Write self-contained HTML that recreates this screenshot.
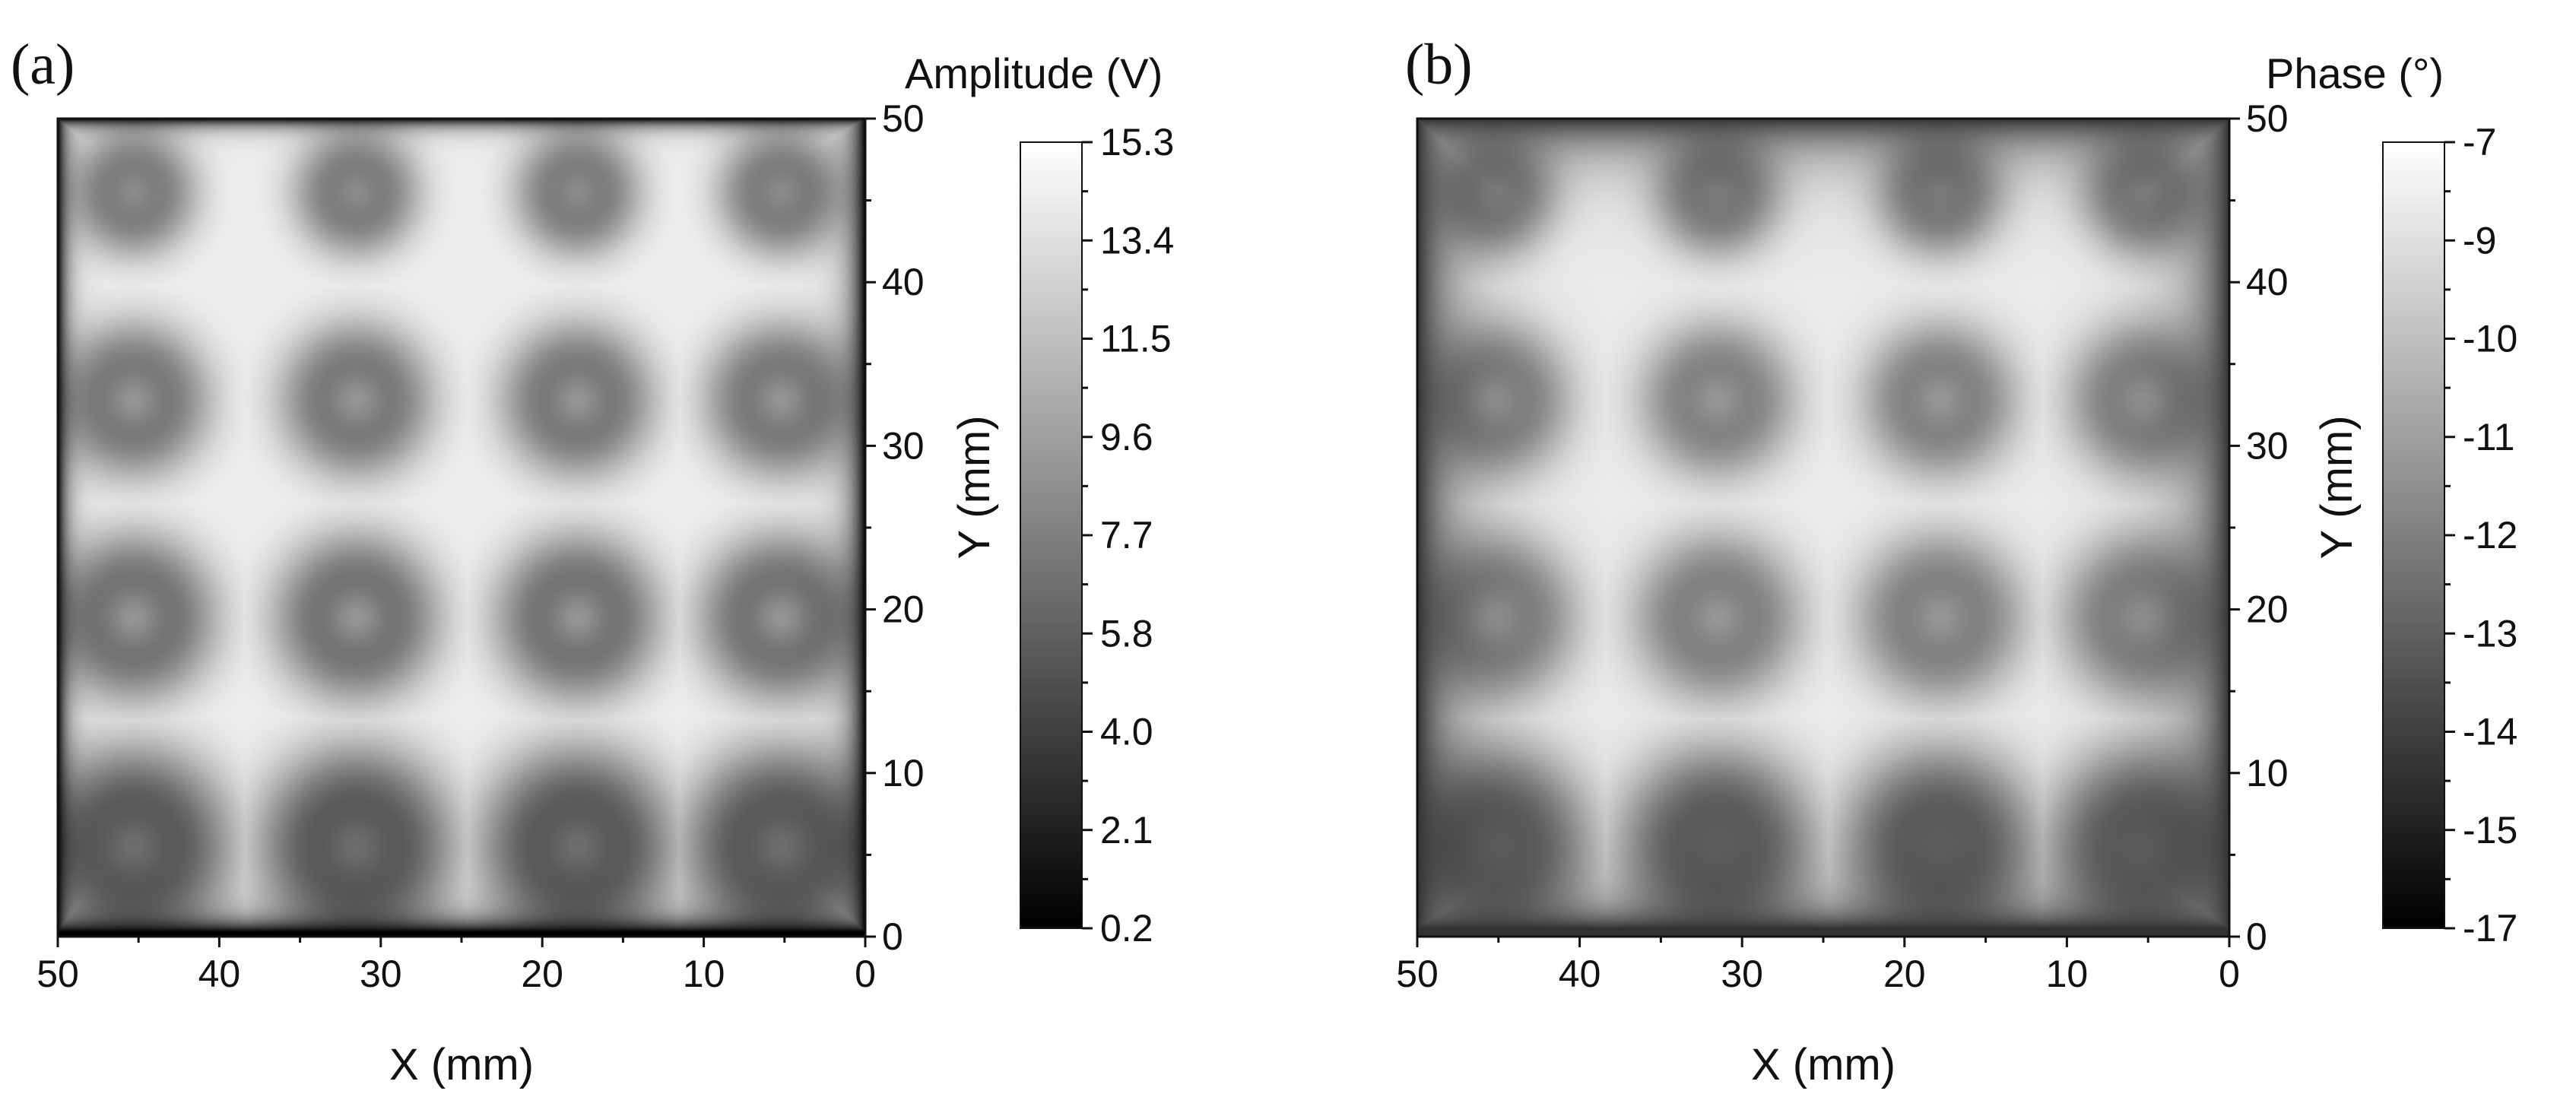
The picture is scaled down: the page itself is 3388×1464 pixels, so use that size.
<!DOCTYPE html>
<html><head><meta charset="utf-8"><style>
body{margin:0;background:#fff;}
#root{position:relative;width:3388px;height:1464px;overflow:hidden;background:#fff;font-family:"Liberation Sans",sans-serif;}
canvas{position:absolute;}
svg{position:absolute;left:0;top:0;}
</style></head><body>
<div id="root">
<canvas id="ca"></canvas>
<canvas id="cb"></canvas>
<svg id="ov" width="3388" height="1464"></svg>
</div>
<script>
// ---- data ----
const spotX = [45.3, 31.5, 17.8, 5.2];          // mm
const spotY = [45.5, 32.8, 19.5, 5.5];          // mm
const spotR = [3.9, 4.7, 5.1, 6.1];             // mm, per row
const ampBg = 14.6, ampRing = [6.6, 6.0, 5.4, 4.0], ampCenter = [8.6, 9.2, 9.2, 6.8];
const phBg = -7.6, phRing = [-12.6, -12.6, -12.7, -14.0], phCenter = [-11.8, -11.0, -11.0, -13.2];
const axisTicks = [0, 10, 20, 30, 40, 50];
const ampCbLabels = ["15.3","13.4","11.5","9.6","7.7","5.8","4.0","2.1","0.2"];
const phCbLabels = ["-7","-9","-10","-11","-12","-13","-14","-15","-17"];

const panels = [
 {id:'ca', L:76, T:156, W:1062, H:1076, cb:[1342,187,81,1034], title:"Amplitude (V)", tx:1190, label:"(a)", lx:14, ytx:1281,
  bg:ampBg, ring:ampRing, cen:ampCenter, vmin:0.2, vmax:15.3, cbl:ampCbLabels, edge:'amp', name:'amplitude'},
 {id:'cb', L:1864, T:156, W:1068, H:1076, cb:[3134,187,81,1034], title:"Phase (°)", tx:2980, label:"(b)", lx:1848, ytx:3073,
  bg:phBg, ring:phRing, cen:phCenter, vmin:-17, vmax:-7, cbl:phCbLabels, edge:'ph', name:'phase'}
];

function value(p, x, y){
  let v = p.bg;
  for(let r=0;r<spotY.length;r++){
    const R = spotR[r];
    for(let c=0;c<spotX.length;c++){
      const d = Math.hypot(x-spotX[c], y-spotY[r]) / R;
      const disk = Math.exp(-Math.pow(d,3)*1.0);
      const core = Math.exp(-d*d/0.15);
      const dv = (p.ring[r]-p.bg)*disk + (p.cen[r]-p.ring[r])*core;
      v = Math.min(v, p.bg+dv);
    }
  }
  const dl=(50-x), dr=x, dt=50-y, db=y;
  let e;
  if(p.edge==='amp'){
    e = Math.min(1-Math.exp(-dl/0.6), 1-Math.exp(-dr/0.9), 1-Math.exp(-dt/0.5), 1-Math.exp(-(db-0.3)/0.8));
    e = Math.max(0,e);
    return p.vmin + (v-p.vmin)*e;
  } else {
    e = Math.min(1-Math.exp(-dl/2.2), 1-Math.exp(-dr/2.2), 1-Math.exp(-dt/2.0), 1-Math.exp(-(db-0.5)/1.5));
    e = Math.max(0,e);
    const low=-15.0;
    return low + (v-low)*e;
  }
}

panels.forEach(p=>{
  const cv = document.getElementById(p.id);
  const s = 2;
  const w = Math.round(p.W/s), h = Math.round(p.H/s);
  cv.width = w; cv.height = h;
  cv.style.left = p.L+'px'; cv.style.top = p.T+'px';
  cv.style.width = p.W+'px'; cv.style.height = p.H+'px';
  const ctx = cv.getContext('2d');
  const img = ctx.createImageData(w,h);
  for(let j=0;j<h;j++){
    const y = 50 - (j+0.5)/h*50;
    for(let i=0;i<w;i++){
      const x = 50 - (i+0.5)/w*50;
      let t = (value(p,x,y)-p.vmin)/(p.vmax-p.vmin);
      t = Math.max(0,Math.min(1,t));
      const g = Math.round(t*250);
      const k = (j*w+i)*4;
      img.data[k]=g; img.data[k+1]=g; img.data[k+2]=g; img.data[k+3]=255;
    }
  }
  ctx.putImageData(img,0,0);
});

const NS='http://www.w3.org/2000/svg';
const ov = document.getElementById('ov');
function mk(tag, attrs, parent){
  const e = document.createElementNS(NS, tag);
  for(const k in attrs) e.setAttribute(k, attrs[k]);
  (parent||ov).appendChild(e);
  return e;
}
const defs = mk('defs',{});
const grad = mk('linearGradient',{id:'gray',x1:0,y1:1,x2:0,y2:0},defs);
mk('stop',{offset:0,'stop-color':'#000'},grad);
mk('stop',{offset:1,'stop-color':'#fff'},grad);

panels.forEach(p=>{
  const g = mk('g',{});
  
  
  const sx = v => p.L + (50-v)/50*p.W;
  const sy = v => p.T + (50-v)/50*p.H;
  const fr = mk('rect',{x:p.L,y:p.T,width:p.W,height:p.H,fill:'none',stroke:'#111','stroke-width':3},g);
  
  
  for(let v=0; v<=50; v+=5){
    const major = v%10===0;
    const len = major?14:8;
    mk('line',{x1:sx(v),x2:sx(v),y1:p.T+p.H,y2:p.T+p.H+len,stroke:'#111','stroke-width':3},g);
    mk('line',{x1:p.L+p.W,x2:p.L+p.W+len,y1:sy(v),y2:sy(v),stroke:'#111','stroke-width':3},g);
  }
  axisTicks.forEach(v=>{
    const t = mk('text',{x:sx(v),y:p.T+p.H+66,'font-size':50,'text-anchor':'middle',fill:'#111'},g);
    t.textContent = v;
    
    
    const u = mk('text',{x:p.L+p.W+22,y:sy(v)+17,'font-size':50,fill:'#111'},g);
    u.textContent = v;
    
    
  });
  const xt = mk('text',{x:p.L+p.W/2,y:1420,'font-size':58,'text-anchor':'middle',fill:'#111'},g);
  xt.textContent = 'X (mm)';
  
  
  const yt = mk('text',{x:0,y:0,'font-size':58,'text-anchor':'middle',fill:'#111',transform:`translate(${p.ytx+20},641) rotate(-90)`},g);
  yt.textContent = 'Y (mm)';
  
  
  const lb = mk('text',{x:p.lx,y:110,'font-size':76,'font-family':'Liberation Serif, serif',fill:'#111'},g);
  lb.textContent = p.label;
  
  
  const [cx,cy,cw,ch] = p.cb;
  const cbr = mk('rect',{x:cx,y:cy,width:cw,height:ch,fill:'url(#gray)',stroke:'#111','stroke-width':2},g);
  
  
  const n = p.cbl.length;
  for(let i=0;i<n;i++){
    const y = cy + i/(n-1)*ch;
    mk('line',{x1:cx+cw,x2:cx+cw+14,y1:y,y2:y,stroke:'#111','stroke-width':3},g);
    if(i<n-1){ const ym=y+ch/(n-1)/2; mk('line',{x1:cx+cw,x2:cx+cw+8,y1:ym,y2:ym,stroke:'#111','stroke-width':3},g); }
    const t = mk('text',{x:cx+cw+24,y:y+17,'font-size':50,fill:'#111'},g);
    t.textContent = p.cbl[i];
    
    
  }
  const ct = mk('text',{x:p.tx,y:116,'font-size':56,fill:'#111'},g);
  ct.textContent = p.title;
  
  
});
</script>
</body></html>
